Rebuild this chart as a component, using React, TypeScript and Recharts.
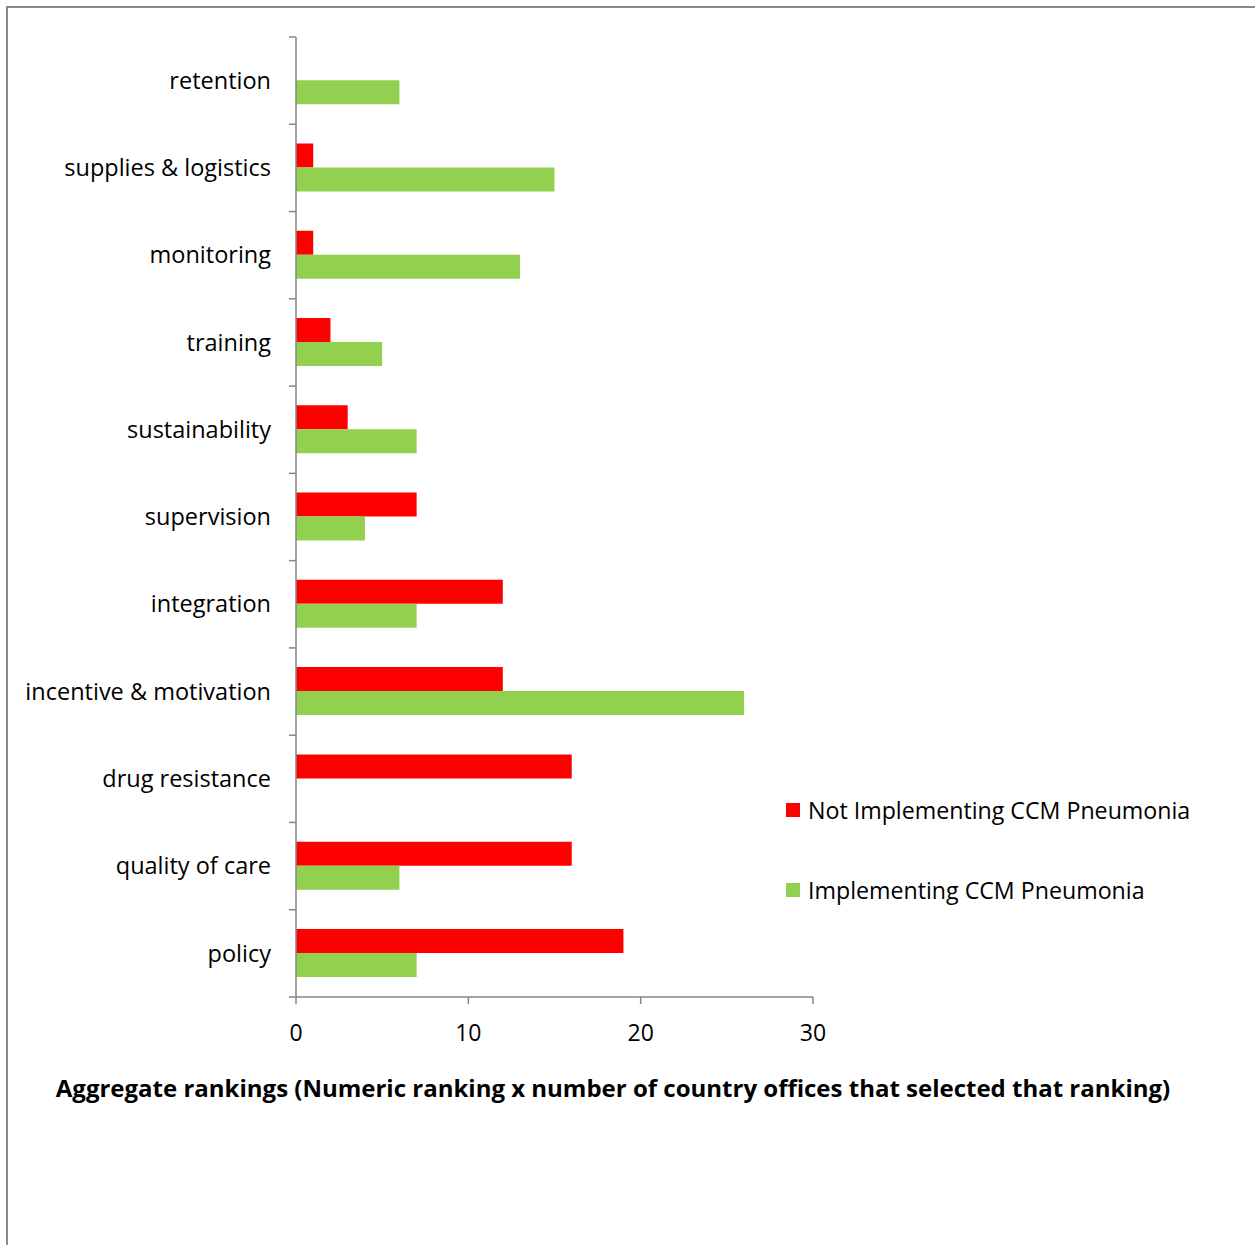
import React from 'react';
import { BarChart, Bar, XAxis, YAxis, Legend } from 'recharts';

const categories = [
  'retention',
  'supplies & logistics',
  'monitoring',
  'training',
  'sustainability',
  'supervision',
  'integration',
  'incentive & motivation',
  'drug resistance',
  'quality of care',
  'policy',
];
const notImplementing = [0, 1, 1, 2, 3, 7, 12, 12, 16, 16, 19];
const implementing = [6, 15, 13, 5, 7, 4, 7, 26, 0, 6, 7];
const xTicks = [0, 10, 20, 30];
const seriesOrder = ['notImpl', 'impl'];

const data = categories.map((name, i) => ({
  name,
  notImpl: notImplementing[i],
  impl: implementing[i],
}));

const FONT = '"Open Sans", Lato, sans-serif';
const AXIS_GRAY = '#868686';
const TICK_MARGIN = 25;

const CategoryTick = (props: any) => {
  const { x, y, payload, index, visibleTicksCount } = props;
  const axisX = x + TICK_MARGIN;
  const half = payload.offset ?? 0;
  return (
    <g>
      <line x1={axisX - 7} x2={axisX} y1={y - half} y2={y - half} stroke={AXIS_GRAY} strokeWidth={1.5} />
      {index === visibleTicksCount - 1 && (
        <line x1={axisX - 7} x2={axisX} y1={y + half} y2={y + half} stroke={AXIS_GRAY} strokeWidth={1.5} />
      )}
      <text x={x} y={y} dy="0.35em" textAnchor="end" fill="#000" fontSize={23.5} fontFamily={FONT}>
        {payload.value}
      </text>
    </g>
  );
};

const LegendContent = (props: any) => {
  const items = [...(props.payload || [])].sort(
    (a: any, b: any) => seriesOrder.indexOf(a.dataKey) - seriesOrder.indexOf(b.dataKey)
  );
  return (
    <div style={{ fontFamily: FONT, fontSize: 23.2, color: '#000' }}>
      {items.map((entry: any) => (
        <div key={entry.value} style={{ display: 'flex', alignItems: 'center', height: 26, marginBottom: 54 }}>
          <span style={{ width: 14, height: 14, background: entry.color, display: 'inline-block', marginRight: 8 }} />
          <span style={{ whiteSpace: 'nowrap' }}>{entry.value}</span>
        </div>
      ))}
    </div>
  );
};

export default function App() {
  return (
    <div style={{ position: 'fixed', inset: 0, overflow: 'hidden', background: '#fff' }}>
      <div
        style={{
          position: 'absolute',
          left: 6,
          top: 6,
          width: 1300,
          height: 1300,
          borderLeft: '2px solid #8a8a8a',
          borderTop: '2px solid #8a8a8a',
        }}
      />
      <div style={{ position: 'absolute', left: 0, top: 0 }}>
        <BarChart
          width={1255}
          height={1245}
          data={data}
          layout="vertical"
          margin={{ top: 37, right: 442, bottom: 208, left: 0 }}
          barCategoryGap="22%"
          barGap={0}
          style={{ fontFamily: FONT }}
        >
          <XAxis
            type="number"
            domain={[0, 30]}
            ticks={xTicks}
            height={40}
            tickSize={7}
            tickMargin={21}
            stroke={AXIS_GRAY}
            strokeWidth={1.5}
            tick={{ fill: '#000', fontSize: 23, fontFamily: FONT }}
          />
          <YAxis
            type="category"
            dataKey="name"
            width={296}
            tickLine={false}
            tickSize={0}
            tickMargin={TICK_MARGIN}
            stroke={AXIS_GRAY}
            strokeWidth={1.5}
            interval={0}
            tick={<CategoryTick />}
          />
          <Legend
            layout="horizontal"
            verticalAlign="middle"
            align="center"
            wrapperStyle={{ left: 786, top: 797, width: 'auto', height: 'auto' }}
            content={<LegendContent />}
          />
          <Bar dataKey="notImpl" name="Not Implementing CCM Pneumonia" fill="#FF0000" isAnimationActive={false} />
          <Bar dataKey="impl" name="Implementing CCM Pneumonia" fill="#92D050" isAnimationActive={false} />
        </BarChart>
      </div>
      <div
        style={{
          position: 'absolute',
          left: 0,
          width: 1226,
          top: 1071,
          textAlign: 'center',
          fontFamily: FONT,
          fontWeight: 'bold',
          fontSize: 24,
          color: '#000',
          whiteSpace: 'nowrap',
        }}
      >
        Aggregate rankings (Numeric ranking x number of country offices that selected that ranking)
      </div>
    </div>
  );
}
